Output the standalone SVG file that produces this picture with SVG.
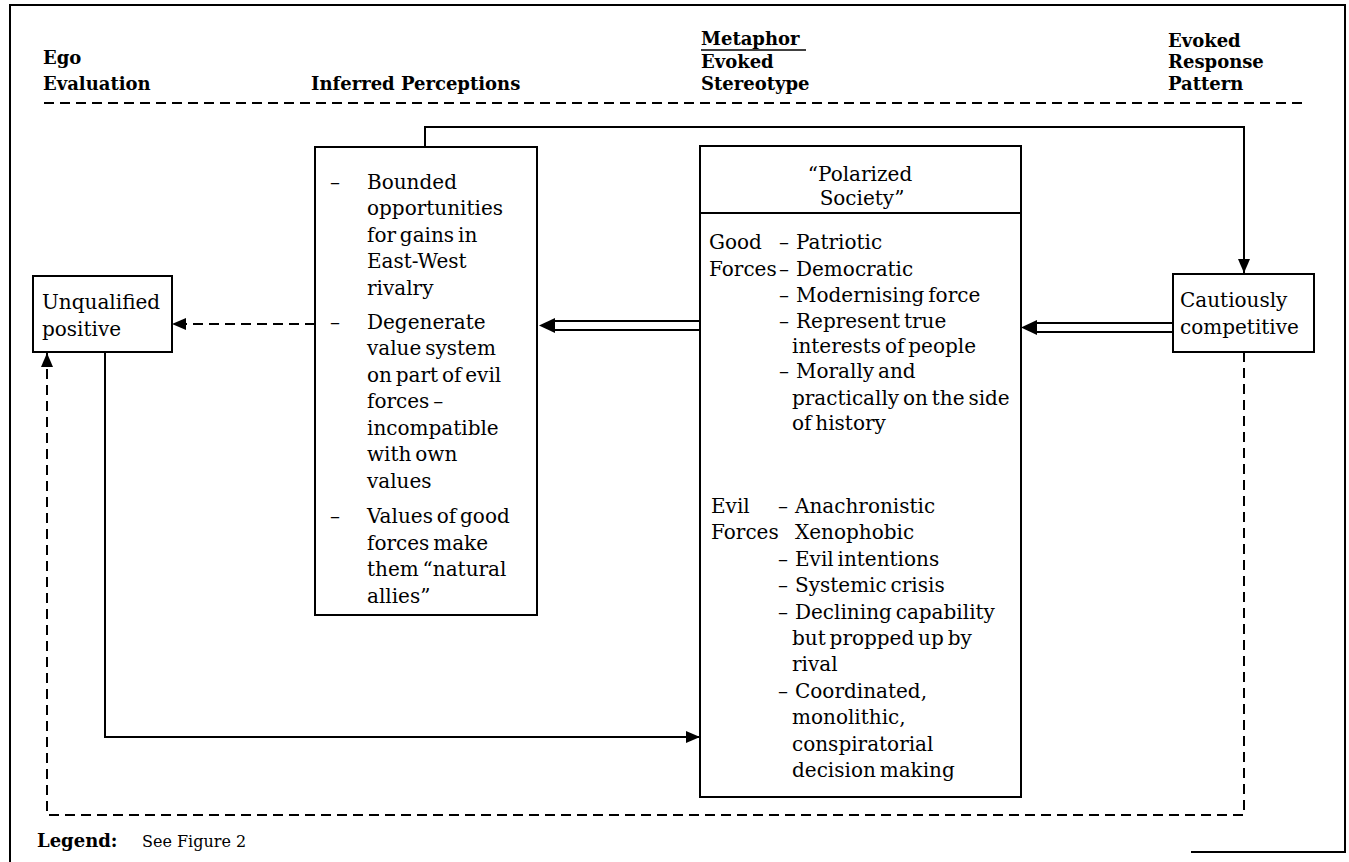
<svg xmlns="http://www.w3.org/2000/svg" width="1349" height="862" viewBox="0 0 1349 862">
  <style>
    .frame { fill: none; stroke: #000; stroke-width: 2; }
    .box { fill: #fff; stroke: #000; stroke-width: 2; }
    .ln { fill: none; stroke: #000; stroke-width: 2; }
    .dash { stroke-dasharray: 10 6; }
    .hdr { font-family: "DejaVu Serif", "Liberation Serif", serif; font-weight: bold; font-size: 18px; fill: #000; }
    .t { font-family: "DejaVu Serif", "Liberation Serif", serif; font-size: 20px; word-spacing: -2.5px; fill: #000; }
    .lg { font-family: "DejaVu Serif", "Liberation Serif", serif; font-size: 16px; fill: #000; }
    .head { fill: #000; stroke: none; }
  </style>
  <defs>
    <marker id="arrow" viewBox="0 0 14 12" refX="14" refY="6" markerWidth="14" markerHeight="12" markerUnits="userSpaceOnUse" orient="auto">
      <path d="M0,0 L14,6 L0,12 z" fill="#000"/>
    </marker>
  </defs>

  <rect width="1349" height="862" fill="#fff"/>

  <!-- page frame -->
  <path class="frame" d="M10,862 V5 H1345 V852 H1191"/>

  <!-- column headings -->
  <g id="headings">
    <text class="hdr" x="43" y="64">Ego</text>
    <text class="hdr" x="43" y="90">Evaluation</text>
    <text class="hdr" x="311" y="90">Inferred Perceptions</text>
    <text class="hdr" x="701" y="45">Metaphor</text>
    <line x1="701" y1="50" x2="806" y2="50" stroke="#000" stroke-width="1.5"/>
    <text class="hdr" x="701" y="68">Evoked</text>
    <text class="hdr" x="701" y="90">Stereotype</text>
    <text class="hdr" x="1168" y="47">Evoked</text>
    <text class="hdr" x="1168" y="68">Response</text>
    <text class="hdr" x="1168" y="90">Pattern</text>
    <line class="ln dash" x1="44" y1="103" x2="1303" y2="103" stroke-width="1.8"/>
  </g>

  <!-- connectors -->
  <g id="connectors">
    <!-- inferred perceptions feed forward to response pattern -->
    <path class="ln" d="M425,147 V127 H1244 V273" marker-end="url(#arrow)"/>
    <!-- perceptions to evaluation (dashed) -->
    <path class="ln dash" d="M315,324 H172" marker-end="url(#arrow)"/>
    <!-- stereotype to perceptions (double line) -->
    <line class="ln" x1="700" y1="321" x2="553" y2="321"/>
    <line class="ln" x1="700" y1="330" x2="553" y2="330"/>
    <polygon class="head" points="539,325.5 555,318 555,333"/>
    <!-- response pattern to stereotype (double line) -->
    <line class="ln" x1="1173" y1="323" x2="1035" y2="323"/>
    <line class="ln" x1="1173" y1="332" x2="1035" y2="332"/>
    <polygon class="head" points="1021,327.5 1037,320 1037,335"/>
    <!-- evaluation to stereotype -->
    <path class="ln" d="M105,352 V737 H700" marker-end="url(#arrow)"/>
    <!-- response pattern back to evaluation (dashed loop) -->
    <path class="ln dash" d="M1244,352 V815 H47 V353" marker-end="url(#arrow)"/>
  </g>

  <!-- Ego evaluation node -->
  <g id="node-unqualified">
    <rect class="box" x="33" y="276" width="139" height="76"/>
    <text class="t" x="42" y="309">Unqualified</text>
    <text class="t" x="42" y="336">positive</text>
  </g>

  <!-- Inferred perceptions node -->
  <g id="node-perceptions">
    <rect class="box" x="315" y="147" width="222" height="468"/>
    <text class="t" x="330" y="189">–</text>
    <text class="t" x="367" y="189">Bounded</text>
    <text class="t" x="367" y="215">opportunities</text>
    <text class="t" x="367" y="242">for gains in</text>
    <text class="t" x="367" y="268">East-West</text>
    <text class="t" x="367" y="295">rivalry</text>
    <text class="t" x="330" y="329">–</text>
    <text class="t" x="367" y="329">Degenerate</text>
    <text class="t" x="367" y="355">value system</text>
    <text class="t" x="367" y="382">on part of evil</text>
    <text class="t" x="367" y="408">forces –</text>
    <text class="t" x="367" y="435">incompatible</text>
    <text class="t" x="367" y="461">with own</text>
    <text class="t" x="367" y="488">values</text>
    <text class="t" x="330" y="523">–</text>
    <text class="t" x="367" y="523">Values of good</text>
    <text class="t" x="367" y="550">forces make</text>
    <text class="t" x="367" y="576">them “natural</text>
    <text class="t" x="367" y="603">allies”</text>
  </g>

  <!-- Metaphor / evoked stereotype node -->
  <g id="node-stereotype">
    <rect class="box" x="700" y="146" width="321" height="651"/>
    <line class="ln" x1="700" y1="213" x2="1021" y2="213"/>
    <text class="t" x="860" y="181" text-anchor="middle">“Polarized</text>
    <text class="t" x="862" y="205" text-anchor="middle">Society”</text>

    <text class="t" x="709" y="249">Good</text>
    <text class="t" x="779" y="249">–</text>
    <text class="t" x="796" y="249">Patriotic</text>
    <text class="t" x="709" y="276">Forces</text>
    <text class="t" x="779" y="276">–</text>
    <text class="t" x="796" y="276">Democratic</text>
    <text class="t" x="779" y="302">–</text>
    <text class="t" x="796" y="302">Modernising force</text>
    <text class="t" x="779" y="328">–</text>
    <text class="t" x="796" y="328">Represent true</text>
    <text class="t" x="792" y="353">interests of people</text>
    <text class="t" x="779" y="378">–</text>
    <text class="t" x="796" y="378">Morally and</text>
    <text class="t" x="792" y="405">practically on the side</text>
    <text class="t" x="792" y="430">of history</text>

    <text class="t" x="711" y="513">Evil</text>
    <text class="t" x="778" y="513">–</text>
    <text class="t" x="795" y="513">Anachronistic</text>
    <text class="t" x="711" y="539">Forces</text>
    <text class="t" x="795" y="539">Xenophobic</text>
    <text class="t" x="778" y="566">–</text>
    <text class="t" x="795" y="566">Evil intentions</text>
    <text class="t" x="778" y="592">–</text>
    <text class="t" x="795" y="592">Systemic crisis</text>
    <text class="t" x="778" y="619">–</text>
    <text class="t" x="795" y="619">Declining capability</text>
    <text class="t" x="792" y="645">but propped up by</text>
    <text class="t" x="792" y="671">rival</text>
    <text class="t" x="778" y="698">–</text>
    <text class="t" x="795" y="698">Coordinated,</text>
    <text class="t" x="792" y="724">monolithic,</text>
    <text class="t" x="792" y="751">conspiratorial</text>
    <text class="t" x="792" y="777">decision making</text>
  </g>

  <!-- Evoked response pattern node -->
  <g id="node-cautious">
    <rect class="box" x="1173" y="274" width="141" height="78"/>
    <text class="t" x="1180" y="307">Cautiously</text>
    <text class="t" x="1180" y="334">competitive</text>
  </g>

  <!-- legend line -->
  <g id="legend">
    <text class="hdr" x="37" y="847">Legend:</text>
    <text class="lg" x="142" y="847">See Figure 2</text>
  </g>
</svg>
